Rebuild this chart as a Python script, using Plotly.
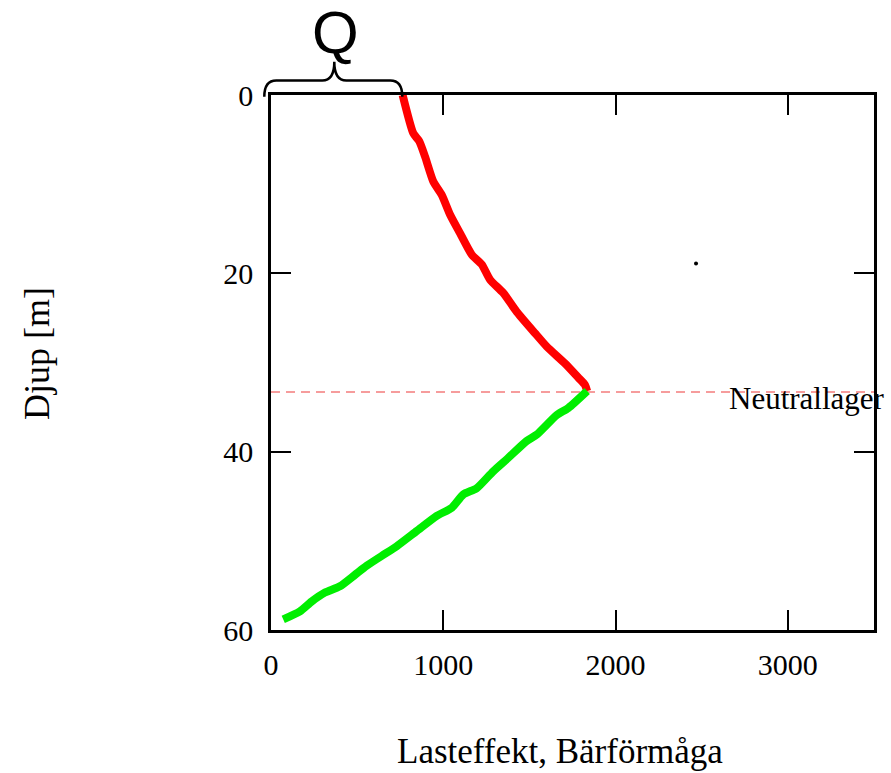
import plotly.graph_objects as go

# Load effect (red) from surface down to the neutral layer
load_depth = [0, 4.3, 5.2, 6.9, 9.7, 11.2, 13.4, 15.5, 17.9, 19.0, 20.7, 22.2,
              24.3, 26.7, 28.2, 30.1, 31.7, 32.5, 33.2]
load_value = [764, 826, 861, 894, 942, 991, 1039, 1097, 1165, 1223, 1271, 1348,
              1426, 1532, 1600, 1706, 1784, 1822, 1835]

# Bearing capacity (green) from the neutral layer down to the pile tip
bear_depth = [33.2, 35.1, 35.9, 38.1, 38.8, 40.7, 42.2, 44.1, 44.8, 46.3, 47.2,
              48.9, 50.6, 51.7, 52.8, 53.8, 55.1, 55.8, 56.8, 57.9, 58.8]
bear_value = [1835, 1726, 1658, 1542, 1484, 1377, 1290, 1194, 1116, 1049, 962,
              846, 730, 642, 555, 488, 400, 313, 236, 168, 71]

neutral_depth = 33.3
stray_point = (2467, 18.9)

x_ticks = [0, 1000, 2000, 3000]
y_ticks = [0, 20, 40, 60]
x_range = [0, 3500]
y_range = [60, 0]

SERIF = "Liberation Serif"
W, H = 891, 773
L, R, T, B = 271, 17, 95, 143
pw, ph = W - L - R, H - T - B


def px(xp):
    return (xp - L) / pw


def py(yp):
    return (H - B - yp) / ph


fig = go.Figure()

fig.add_trace(go.Scatter(
    x=[x_range[0], x_range[1]], y=[neutral_depth, neutral_depth], mode="lines",
    line=dict(color="rgba(240,90,90,0.8)", width=1.5, dash="9px,6px"),
    hoverinfo="skip", showlegend=False))

fig.add_trace(go.Scatter(
    x=load_value, y=load_depth, mode="lines",
    line=dict(color="#ff0000", width=8, shape="spline", smoothing=0.6),
    showlegend=False))

fig.add_trace(go.Scatter(
    x=bear_value, y=bear_depth, mode="lines",
    line=dict(color="#00ee00", width=8, shape="spline", smoothing=0.6),
    showlegend=False))

fig.add_trace(go.Scatter(
    x=[stray_point[0]], y=[stray_point[1]], mode="markers",
    marker=dict(color="black", size=4), showlegend=False))

axis_common = dict(
    showline=True, linecolor="black", linewidth=2.5, mirror="ticks",
    ticks="inside", ticklen=20, tickwidth=2, tickcolor="black",
    showgrid=False, zeroline=False,
    tickfont=dict(family=SERIF, size=30, color="black"),
)

fig.update_xaxes(range=x_range, tickvals=x_ticks, ticklabelstandoff=6,
                 ticktext=[str(v) for v in x_ticks], **axis_common)
fig.update_yaxes(range=y_range, tickvals=y_ticks, ticklabelstandoff=9,
                 ticktext=[str(v) for v in y_ticks], **axis_common)

# Curly brace marking Q at the surface
bx0, bx1 = 264.3, 402.3
bm = 334.3
ytop, ybot, ycusp = 80.5, 96.7, 61.7
brace = (
    f"M {px(bx0)},{py(ybot)} "
    f"Q {px(bx0)},{py(ytop)} {px(bx0 + 12)},{py(ytop)} "
    f"L {px(bm - 12)},{py(ytop)} "
    f"Q {px(bm)},{py(ytop)} {px(bm)},{py(ycusp)} "
    f"Q {px(bm)},{py(ytop)} {px(bm + 12)},{py(ytop)} "
    f"L {px(bx1 - 12)},{py(ytop)} "
    f"Q {px(bx1)},{py(ytop)} {px(bx1)},{py(ybot)}"
)
fig.add_shape(type="path", path=brace, xref="paper", yref="paper",
              line=dict(color="black", width=2.5))

fig.add_annotation(text="Q", xref="paper", yref="paper", x=px(335), y=py(33),
                   xanchor="center", yanchor="middle", showarrow=False,
                   font=dict(family="Liberation Sans", size=60, color="black"))

fig.add_annotation(text="Neutrallager", xref="paper", yref="paper",
                   x=px(727), y=py(398), xanchor="left", yanchor="middle",
                   showarrow=False,
                   font=dict(family=SERIF, size=31, color="black"))

fig.add_annotation(text="Lasteffekt, Bärförmåga", xref="paper", yref="paper",
                   x=px(560), y=py(751), xanchor="center", yanchor="middle",
                   showarrow=False,
                   font=dict(family=SERIF, size=35, color="black"))

fig.add_annotation(text="Djup [m]", xref="paper", yref="paper",
                   x=px(37), y=py(354), xanchor="center", yanchor="middle",
                   textangle=-90, showarrow=False,
                   font=dict(family=SERIF, size=36, color="black"))

fig.update_layout(
    width=W, height=H,
    margin=dict(l=L, r=R, t=T, b=B),
    paper_bgcolor="white", plot_bgcolor="white",
    showlegend=False,
)

fig.write_html("out.html")
